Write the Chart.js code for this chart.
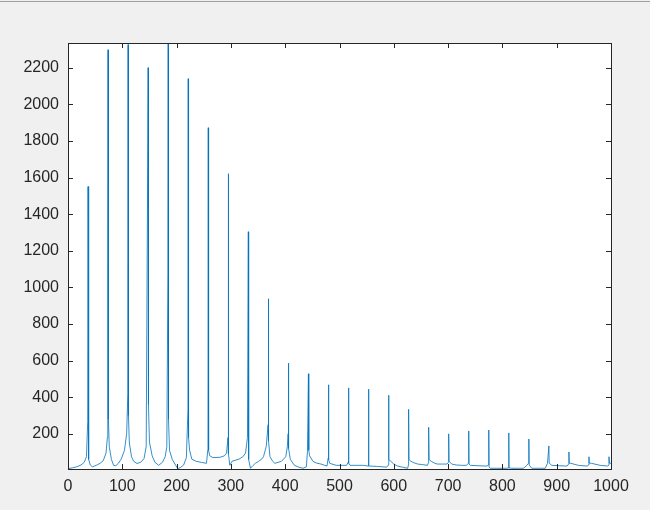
<!DOCTYPE html>
<html>
<head>
<meta charset="utf-8">
<script src="https://cdn.jsdelivr.net/npm/chart.js@4.4.1/dist/chart.umd.min.js"></script>
<style>
  html, body { margin: 0; padding: 0; background: #f0f0f0; }
  #grafico { display: block; }
</style>
</head>
<body>
<canvas id="grafico" width="650" height="510"></canvas>
<script>
const frecuencias = [
    0, 8, 16, 24, 30, 34, 36.3, 36.9, 37.5, 38.5, 41, 45, 52, 59, 65, 70, 72.5, 73.3, 73.8, 74.4,
    76, 80, 84, 88, 93, 98, 104, 108, 110.2, 110.7, 111.3, 113, 117, 121, 127, 134, 140, 144, 147.0, 147.6,
    148.2, 150, 155, 160, 167, 174, 179, 182, 184.0, 184.5, 185.1, 187, 192, 197, 202, 207, 213, 218, 220.9, 221.4,
    222, 224, 228, 236, 246, 255, 257.8, 258.3, 258.9, 261, 267, 280, 288, 292, 294.7, 295.2, 295.8, 298, 302, 315,
    322, 327, 330.5, 332.1, 332.7, 336, 340, 345, 351, 356, 360, 365, 368.5, 369.0, 369.6, 372, 377, 381, 393, 401,
    404, 405.4, 405.9, 406.5, 409.5, 417, 425, 433, 439, 441, 442.8, 443.4, 445, 451, 458, 466, 477, 479, 479.7, 480.3,
    482, 494, 505, 513, 516, 516.6, 517.2, 519.5, 532, 544, 553, 553.5, 554, 556, 570, 587, 590, 590.4, 591, 594.6,
    600, 607, 616, 625.5, 627, 627.3, 628, 631.5, 637, 644, 653, 662, 664, 664.2, 665, 668.8, 675, 680, 690, 698,
    700.6, 701.1, 701.8, 706.6, 715, 725, 734, 737.5, 738.0, 738.6, 741, 755, 771.5, 774.5, 774.9, 775.5, 777.5, 790, 808, 811.5,
    811.8, 812.2, 817, 830, 839, 845, 848.3, 848.7, 849.3, 854, 866, 879, 883, 885.6, 886.2, 891, 905, 919, 922.0, 922.5,
    923.1, 926, 940, 956, 959.0, 959.4, 960, 964, 980, 994, 996.0, 996.3, 997, 1000
];
const amplitudes = [
    10, 14, 20, 30, 45, 75, 266, 1551, 160, 60, 30, 20, 28, 39, 54, 95, 180, 900, 2298, 280,
    130, 60, 28, 26, 40, 62, 110, 200, 420, 2326, 300, 150, 75, 50, 38, 45, 65, 130, 1800, 2200,
    360, 155, 80, 45, 28, 45, 75, 130, 1075, 2335, 280, 110, 60, 35, 10, 16, 30, 70, 330, 2140,
    180, 110, 62, 50, 44, 39, 120, 1872, 110, 80, 70, 72, 80, 95, 180, 1621, 90, 28, 50, 62,
    75, 95, 180, 1304, 60, 12, 25, 39, 50, 60, 75, 130, 250, 938, 160, 75, 50, 39, 50, 75,
    130, 200, 586, 120, 60, 28, 18, 12, 20, 105, 528, 110, 80, 50, 40, 35, 24, 66, 468, 60,
    39, 28, 28, 28, 45, 451, 40, 28, 28, 28, 24, 444, 26, 24, 22, 18, 30, 411, 60, 50,
    35, 24, 18, 12, 30, 334, 60, 50, 42, 35, 32, 28, 45, 236, 60, 50, 40, 35, 35, 35,
    45, 200, 50, 35, 30, 28, 28, 40, 216, 35, 28, 26, 24, 30, 221, 20, 12, 12, 12, 14,
    205, 14, 12, 12, 12, 28, 40, 172, 30, 12, 12, 12, 39, 134, 40, 28, 26, 24, 35, 101,
    40, 39, 28, 24, 30, 75, 40, 39, 28, 24, 30, 75, 40, 39
];

const ticksX = [0, 100, 200, 300, 400, 500, 600, 700, 800, 900, 1000];
const ticksY = [200, 400, 600, 800, 1000, 1200, 1400, 1600, 1800, 2000, 2200];

const colorLinea = '#0072BD';
const colorEjes = '#262626';
const fuente = { family: '"Liberation Sans", Arial, sans-serif', size: 16 };

// Fondo de figura, caja de ejes y marcas hacia dentro al estilo MATLAB
const estiloMatlab = {
    id: 'estiloMatlab',
    beforeDraw(chart) {
        const { ctx, chartArea: a } = chart;
        ctx.save();
        ctx.fillStyle = '#f0f0f0';
        ctx.fillRect(0, 0, chart.width, chart.height);
        ctx.fillStyle = '#a0a0a0';
        ctx.fillRect(0, 1, chart.width, 1);
        ctx.fillStyle = '#ffffff';
        ctx.fillRect(a.left, a.top, a.right - a.left, a.bottom - a.top);
        ctx.restore();
    },
    afterDraw(chart) {
        const { ctx, chartArea: a, scales } = chart;
        const largo = 5;
        ctx.save();
        ctx.strokeStyle = colorEjes;
        ctx.lineWidth = 1;
        ctx.beginPath();
        ticksX.forEach(v => {
            const x = Math.round(scales.x.getPixelForValue(v)) + 0.5;
            ctx.moveTo(x, a.bottom); ctx.lineTo(x, a.bottom - largo);
            ctx.moveTo(x, a.top); ctx.lineTo(x, a.top + largo);
        });
        ticksY.forEach(v => {
            const y = Math.round(scales.y.getPixelForValue(v)) + 0.5;
            ctx.moveTo(a.left, y); ctx.lineTo(a.left + largo, y);
            ctx.moveTo(a.right, y); ctx.lineTo(a.right - largo, y);
        });
        ctx.stroke();
        ctx.strokeRect(Math.round(a.left) + 0.5, Math.round(a.top) + 0.5,
            Math.round(a.right - a.left), Math.round(a.bottom - a.top));
        ctx.restore();
    }
};

function inicializarEspectro(canvasId) {
    const ctx = document.getElementById(canvasId).getContext('2d');
    const puntos = frecuencias.map((f, i) => ({ x: f, y: amplitudes[i] }));

    new Chart(ctx, {
        type: 'line',
        data: {
            datasets: [{
                data: puntos,
                borderColor: colorLinea,
                borderWidth: 0.8,
                pointRadius: 0,
                tension: 0,
                fill: false
            }]
        },
        options: {
            responsive: false,
            animation: false,
            layout: { padding: { left: 0, top: 43, right: 39, bottom: 0 } },
            plugins: {
                legend: { display: false },
                tooltip: { enabled: false }
            },
            scales: {
                x: {
                    type: 'linear',
                    min: 0,
                    max: 1000,
                    grid: { display: false, drawTicks: false },
                    border: { display: false },
                    afterBuildTicks: s => { s.ticks = ticksX.map(v => ({ value: v })); },
                    afterFit: s => { s.height = 41; },
                    ticks: {
                        color: colorEjes, font: fuente, padding: 8, maxRotation: 0, autoSkip: false,
                        callback: v => String(v)
                    }
                },
                y: {
                    type: 'linear',
                    min: 8,
                    max: 2335,
                    grid: { display: false, drawTicks: false },
                    border: { display: false },
                    afterBuildTicks: s => { s.ticks = ticksY.map(v => ({ value: v })); },
                    afterFit: s => { s.width = 68; },
                    ticks: {
                        color: colorEjes, font: fuente, padding: 9, autoSkip: false,
                        callback: v => String(v)
                    }
                }
            }
        },
        plugins: [estiloMatlab]
    });
}

inicializarEspectro('grafico');
</script>
</body>
</html>
